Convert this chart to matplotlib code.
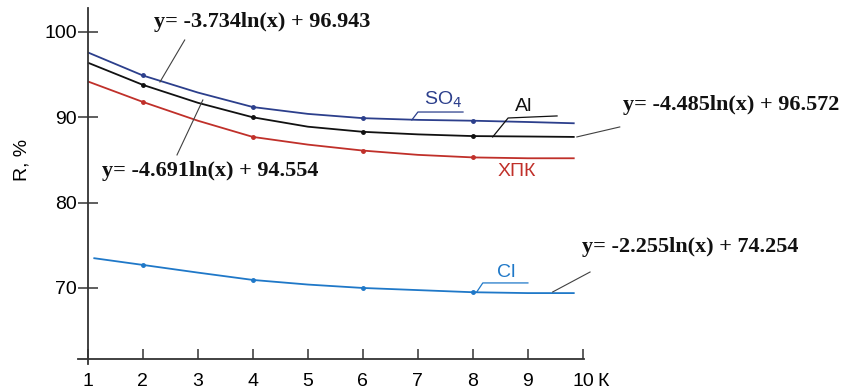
import numpy as np
import matplotlib
matplotlib.use("Agg")
import matplotlib.pyplot as plt

# ------------------------------------------------------------------
# Data
# ------------------------------------------------------------------
x_line = [1, 2, 3, 4, 5, 6, 7, 8, 9, 9.85]
so4 = [97.6, 94.9, 92.9, 91.2, 90.4, 89.9, 89.7, 89.6, 89.45, 89.3]
al = [96.4, 93.8, 91.7, 90.0, 88.9, 88.3, 88.0, 87.8, 87.75, 87.7]
xpk = [94.2, 91.8, 89.6, 87.7, 86.8, 86.1, 85.6, 85.3, 85.2, 85.2]

x_cl = [1.1, 2, 3, 4, 5, 6, 7, 8, 9, 9.85]
cl = [73.5, 72.7, 71.8, 70.94, 70.4, 70.0, 69.75, 69.5, 69.4, 69.4]

x_mark = [2, 4, 6, 8]
so4_mark = [94.9, 91.2, 89.9, 89.6]
al_mark = [93.8, 90.0, 88.3, 87.8]
xpk_mark = [91.8, 87.7, 86.1, 85.3]
cl_mark = [72.7, 70.94, 70.0, 69.5]

x_ticks = [1, 2, 3, 4, 5, 6, 7, 8, 9, 10]
y_ticks = [70, 80, 90, 100]

eq_so4 = "y= -3.734ln(x) + 96.943"
eq_xpk = "y= -4.691ln(x) + 94.554"
eq_al = "y= -4.485ln(x) + 96.572"
eq_cl = "y= -2.255ln(x) + 74.254"

c_so4 = "#2c3f8c"
c_al = "#111111"
c_xpk = "#c0302a"
c_cl = "#1f78c8"
c_lead = "#404040"

plt.rcParams["font.family"] = ["Liberation Sans", "DejaVu Sans"]

# ------------------------------------------------------------------
# Figure
# ------------------------------------------------------------------
W, H = 841, 392
fig = plt.figure(figsize=(W / 100, H / 100), dpi=100)
ax = fig.add_axes([78 / W, (H - 364) / H, 506 / W, 356 / H])
ax.set_xlim(0.82, 10.02)
ax.set_ylim(61.09, 102.81)

for s in ["top", "right"]:
    ax.spines[s].set_visible(False)
ax.spines["left"].set_position(("data", 1))
ax.spines["bottom"].set_position(("data", 61.68))
for s in ["left", "bottom"]:
    ax.spines[s].set_color("#333333")
    ax.spines[s].set_linewidth(1.3)

ax.set_xticks(x_ticks)
ax.set_yticks(y_ticks)
ax.tick_params(axis="y", direction="inout", length=14, width=1.1,
               color="#333333", labelsize=14, pad=1)
ax.tick_params(axis="x", direction="in", length=7, width=1.1,
               color="#333333", labelsize=14, pad=10)

# Curves
for xs, ys, xm, ym, col in [
    (x_line, so4, x_mark, so4_mark, c_so4),
    (x_line, al, x_mark, al_mark, c_al),
    (x_line, xpk, x_mark, xpk_mark, c_xpk),
    (x_cl, cl, x_mark, cl_mark, c_cl),
]:
    ax.plot(xs, ys, color=col, lw=1.3, solid_capstyle="butt")
    ax.plot(xm, ym, ls="", marker="o", ms=2.5, color=col)

# Equations with leader lines
eq_kw = dict(family=["Liberation Serif", "DejaVu Serif"], fontweight="bold",
             fontsize=16, ha="center", va="center", color="#111111")
ax.text(4.16, 101.17, eq_so4, **eq_kw)
ax.plot([2.76, 2.31], [99.06, 94.14], color=c_lead, lw=0.8, clip_on=False)
ax.text(3.22, 83.71, eq_xpk, **eq_kw)
ax.plot([2.62, 3.09], [85.59, 92.03], color=c_lead, lw=0.8, clip_on=False)
ax.text(12.69, 91.44, eq_al, clip_on=False, **eq_kw)
ax.plot([9.89, 10.67], [87.7, 88.87], color=c_lead, lw=0.8, clip_on=False)
ax.text(11.95, 74.8, eq_cl, clip_on=False, **eq_kw)
ax.plot([9.45, 10.13], [69.53, 71.87], color=c_lead, lw=0.8, clip_on=False)

# Series callouts
ax.plot([6.89, 7.0, 7.82], [89.69, 90.62, 90.62], color=c_so4, lw=0.9)
ax.text(7.45, 92.0, "SO$_4$", color=c_so4, fontsize=14, ha="center", va="center")
ax.plot([8.36, 8.64, 9.53], [87.7, 89.92, 90.16], color=c_al, lw=0.9)
ax.text(8.93, 91.3, "Al", color=c_al, fontsize=14, ha="center", va="center")
ax.text(8.8, 83.6, "ХПК", color=c_xpk, fontsize=14, ha="center", va="center")
ax.plot([8.07, 8.18, 9.0], [69.53, 70.59, 70.59], color=c_cl, lw=0.9)
ax.text(8.6, 71.8, "Cl", color=c_cl, fontsize=14, ha="center", va="center")

# Axis labels
fig.text(22 / W, 1 - 160 / H, "R, %", rotation=90, fontsize=14,
         ha="center", va="center")
fig.text(603 / W, 1 - 381 / H, "К", fontsize=14, ha="center", va="center")

fig.savefig("out.png", dpi=100)
